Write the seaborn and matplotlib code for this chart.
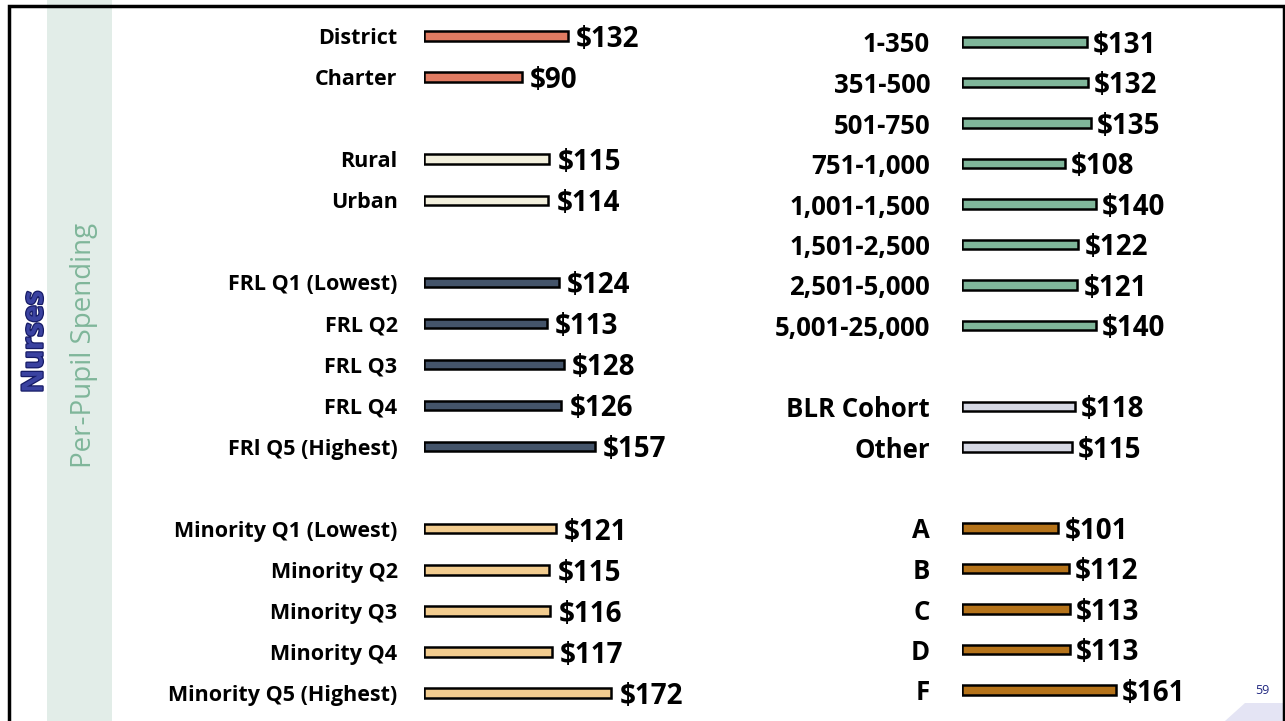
import matplotlib
matplotlib.use("Agg")
import matplotlib.pyplot as plt
import matplotlib.patheffects as pe
from matplotlib.patches import Rectangle, Polygon
import pandas as pd
import seaborn as sns

# left panel data (blank strings are spacer rows)
left_cats = ["District", "Charter", "", "Rural", "Urban", " ",
             "FRL Q1 (Lowest)", "FRL Q2", "FRL Q3", "FRL Q4", "FRl Q5 (Highest)", "  ",
             "Minority Q1 (Lowest)", "Minority Q2", "Minority Q3", "Minority Q4", "Minority Q5 (Highest)"]
left_vals = [132, 90, None, 115, 114, None,
             124, 113, 128, 126, 157, None,
             121, 115, 116, 117, 172]
left_groups = ["type", "type", None, "loc", "loc", None,
               "frl", "frl", "frl", "frl", "frl", None,
               "min", "min", "min", "min", "min"]

# right panel data
right_cats = ["1-350", "351-500", "501-750", "751-1,000", "1,001-1,500", "1,501-2,500",
              "2,501-5,000", "5,001-25,000", "", "BLR Cohort", "Other", " ",
              "A", "B", "C", "D", "F"]
right_vals = [131, 132, 135, 108, 140, 122, 121, 140, None, 118, 115, None,
              101, 112, 113, 113, 161]
right_groups = ["size"] * 8 + [None, "blr", "blr", None] + ["grade"] * 5

palette = {"type": "#E07B62", "loc": "#F2EFDC", "frl": "#44546A", "min": "#F2CC8F",
           "size": "#7FB69A", "blr": "#D6D8E4", "grade": "#B5731A"}

W, H = 1285, 721
fig = plt.figure(figsize=(W / 100, H / 100), dpi=100)
fig.patch.set_facecolor("white")

FONT = ["Open Sans", "DejaVu Sans"]


def panel(cats, vals, groups, x0, scale, y_first, y_last, label_size, val_size, pad, gap):
    df = pd.DataFrame({"cat": cats, "val": vals, "grp": groups}).dropna()
    n = len(cats)
    pitch = (y_last - y_first) / (n - 1)
    top = y_first - pitch / 2
    height = pitch * n
    xmax = 200
    ax = fig.add_axes([x0 / W, 1 - (top + height) / H, xmax * scale / W, height / H])
    sns.barplot(data=df, y="cat", x="val", hue="grp", palette=palette, order=cats,
                dodge=False, legend=False, width=0.23, edgecolor="black",
                linewidth=1.8, orient="h", saturation=1, ax=ax)
    ax.set_xlim(0, xmax)
    ax.set_ylim(n - 0.5, -0.5)
    ax.set_xlabel("")
    ax.set_ylabel("")
    ax.set_xticks([])
    for s in ax.spines.values():
        s.set_visible(False)
    ax.tick_params(axis="y", length=0, pad=pad)
    ax.set_yticks(range(n))
    ax.set_yticklabels(cats, fontsize=label_size, fontweight="bold", family=FONT)
    ax.patch.set_alpha(0)
    for i, v in enumerate(vals):
        if v is None:
            continue
        ax.text(v + gap / scale, i + 0.08, f"${v}", va="center", ha="left",
                fontsize=val_size, fontweight="bold", family=FONT)
    return ax


panel(left_cats, left_vals, left_groups, 424, 1.09, 36, 693, 15.5, 20, 19, 8)
panel(right_cats, right_vals, right_groups, 962, 0.954, 42, 690, 18.5, 20, 23, 6)

# side banner
fig.patches.append(Rectangle((47 / W, 0), 65 / W, 1, transform=fig.transFigure,
                             facecolor="#E2EDE8", edgecolor="none", zorder=0))
fig.text(35 / W, 1 - 342 / H, "Nurses", rotation=90, ha="center", va="center",
         fontsize=21, color="#3A42A0", family=FONT, fontweight="bold",
         path_effects=[pe.Stroke(linewidth=1.8, foreground="#161B66"), pe.Normal()])
fig.text(84 / W, 1 - 345 / H, "Per-Pupil Spending", rotation=90, ha="center", va="center",
         fontsize=20, color="#7FB69A", family=FONT)

# frame
fig.patches.append(Rectangle((9 / W, -0.01), (W - 10) / W, 1 - 6 / H + 0.01,
                             transform=fig.transFigure, facecolor="none",
                             edgecolor="black", linewidth=2.5, zorder=5))

# page number tab
fig.patches.append(Polygon([(1225 / W, 0), (1245 / W, 18 / H), (1.0, 18 / H), (1.0, 0)],
                           closed=True, transform=fig.transFigure,
                           facecolor="#E4E4F4", edgecolor="none", zorder=1))
fig.text(1262 / W, 1 - 690 / H, "59", ha="center", va="center", fontsize=9,
         color="#1F2680", family=FONT)

fig.savefig("out.png", dpi=100)
